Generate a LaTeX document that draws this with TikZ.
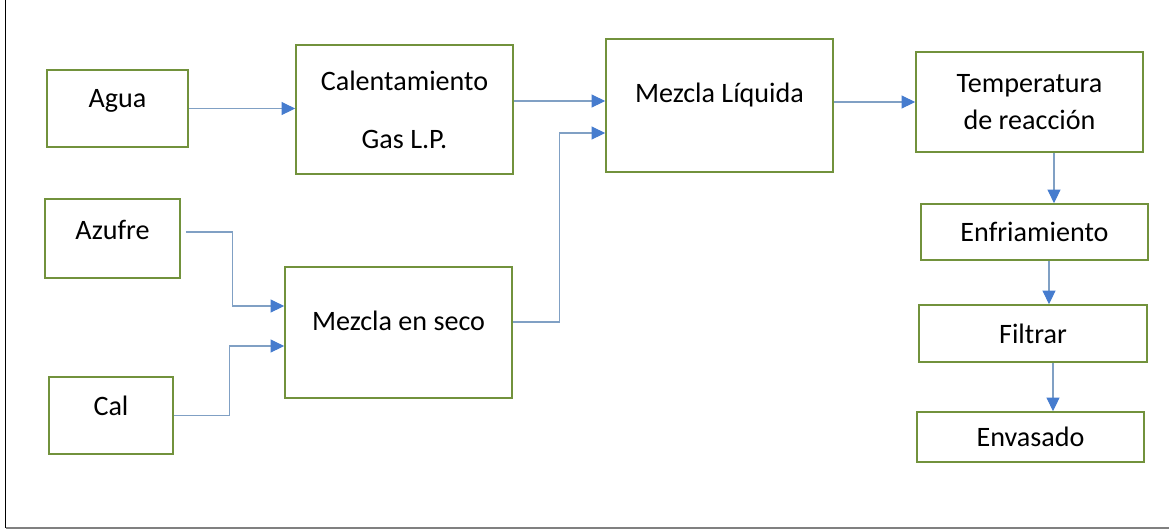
\documentclass[tikz,border=0pt]{standalone}
\usepackage{fontspec}
\setmainfont{Carlito}
\usepackage{tikz}
\usetikzlibrary{positioning}
\usetikzlibrary{arrows.meta}
\definecolor{boxgreen}{RGB}{114,146,60}
\definecolor{linkblue}{RGB}{128,160,196}
\definecolor{tipblue}{RGB}{70,124,206}

\begin{document}
\begin{tikzpicture}
\tikzset{basic/.style={draw=boxgreen,line width=1pt,fill=white,align=center,font=\fontsize{16}{21.5}\selectfont}}
\tikzset{box/.style={basic,rectangle,inner sep=2pt}}
\tikzset{lift/.style={text height=12pt,text depth=#1}}
\tikzset{arr/.style={linkblue,line width=0.6pt,-{Triangle[length=0.27cm,width=0.26cm,color=tipblue]}}}
    \useasboundingbox (0,0) rectangle (23.38,-10.58);
    % frame
    \draw[line width=0.8pt] (0.11,0) -- (0.11,-10.56);
    \draw[gray,line width=0.8pt] (0.11,-10.56) -- (23.38,-10.56);
        \node[box,lift=13.6pt,minimum width=2.82cm,minimum height=1.54cm] (agua) at (2.35,-2.17) {Agua};
        \node[box,lift=11.4pt,minimum width=2.70cm,minimum height=1.58cm] (azufre) at (2.25,-4.77) {Azufre};
        \node[box,lift=12.5pt,minimum width=2.48cm,minimum height=1.54cm] (cal) at (2.22,-8.31) {Cal};
        \node[box,minimum width=4.34cm,minimum height=2.58cm] (calent) at (8.09,-2.19) {Calentamiento\\[11.5pt]Gas L.P.};
        \node[box,lift=14.8pt,minimum width=4.54cm,minimum height=2.62cm] (seco) at (7.97,-6.65) {Mezcla en seco};
        \node[box,lift=15.9pt,minimum width=4.54cm,minimum height=2.66cm] (liquida) at (14.39,-2.11) {Mezcla Líquida};
        \node[box,minimum width=4.54cm,minimum height=2.00cm] (temp) at (20.59,-2.04) {Temperatura\\de reacción};
        \node[box,minimum width=4.54cm,minimum height=1.12cm] (enfr) at (20.69,-4.64) {Enfriamiento};
        \node[box,minimum width=4.56cm,minimum height=1.14cm] (filtrar) at (20.66,-6.67) {Filtrar};
        \node[box,minimum width=4.54cm,minimum height=1.00cm] (envasado) at (20.61,-8.74) {Envasado};
    % mixing line
        \coordinate (lqin1) at ([yshift=0.09cm]liquida.west);
        \coordinate (lqin2) at ([yshift=-0.55cm]liquida.west);
        \coordinate (sin1) at ([yshift=0.53cm]seco.west);
        \coordinate (sin2) at ([yshift=-0.27cm]seco.west);
        \coordinate (az1) at ([xshift=0.1cm,yshift=0.13cm]azufre.east);
        \coordinate (so1) at ([yshift=0.21cm]seco.east);
            \path[draw,arr] (agua.east) -- (agua.east -| calent.west);
            \path[draw,arr] (calent.east |- lqin1) -- (lqin1);
            \path[draw,arr] (az1) -- ++(0.94,0) |- (sin1);
            \path[draw,arr] (cal.east) -- ++(1.12,0) |- (sin2);
            \path[draw,arr] (so1) -- ++(0.94,0) |- (lqin2);
            \path[draw,arr] (liquida.east |- temp.west) -- (temp.west);
    % process line
        \coordinate (t1) at ([xshift=0.49cm]temp.south);
        \coordinate (t2) at ([xshift=0.29cm]enfr.south);
        \coordinate (t3) at ([xshift=0.40cm]filtrar.south);
            \path[draw,arr] (t1) -- (t1 |- enfr.north);
            \path[draw,arr] (t2) -- (t2 |- filtrar.north);
            \path[draw,arr] (t3) -- (t3 |- envasado.north);
\end{tikzpicture}
\end{document}
